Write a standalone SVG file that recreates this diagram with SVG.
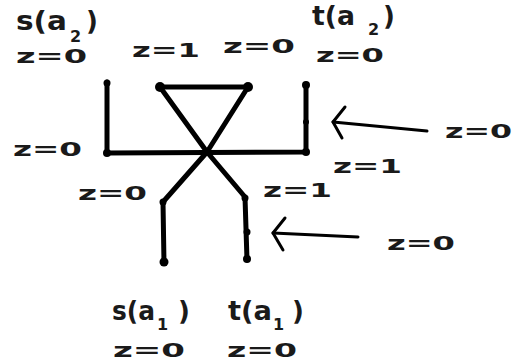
<svg xmlns="http://www.w3.org/2000/svg" width="513" height="364" viewBox="0 0 513 364">
<style>
text{font-family:"DejaVu Sans","Liberation Sans",sans-serif;font-weight:bold;fill:#1a1a1a}
.z{font-size:20px}
.big{font-size:26px}
.sub{font-size:16px}
.wire{fill:none;stroke:#000;stroke-width:5;stroke-linecap:round;stroke-linejoin:round}
.arr{fill:none;stroke:#000;stroke-width:3;stroke-linecap:round;stroke-linejoin:round}
.dot{fill:#000}
</style>
<rect width="513" height="364" fill="#fff"/>
<g id="connectors">
<polyline class="wire" points="107,82 107,153 306,152 306,84"/>
<line class="wire" x1="160" y1="87" x2="248" y2="87"/>
<polyline class="wire" points="160,87 207,152 245,197 247,260"/>
<polyline class="wire" points="248,87 207,152 163,202 164,263"/>
<circle class="dot" cx="107" cy="83" r="3.5"/>
<circle class="dot" cx="107" cy="153" r="4"/>
<circle class="dot" cx="160" cy="87" r="5"/>
<circle class="dot" cx="248" cy="87" r="5"/>
<circle class="dot" cx="306" cy="85" r="4"/>
<circle class="dot" cx="306" cy="152" r="4"/>
<circle class="dot" cx="306" cy="122" r="3"/>
<circle class="dot" cx="163" cy="202" r="3.5"/>
<circle class="dot" cx="164" cy="262" r="4.5"/>
<circle class="dot" cx="245" cy="198" r="3.5"/>
<circle class="dot" cx="247" cy="232" r="3.5"/>
<circle class="dot" cx="247" cy="259" r="4"/>
<polyline class="arr" points="345,107 333,122 342,138"/>
<line class="arr" x1="333" y1="122" x2="427" y2="131"/>
<polyline class="arr" points="285,218 273,233 283,250"/>
<line class="arr" x1="273" y1="233" x2="358" y2="237"/>
</g>
<g id="s_a2">
<text class="big" x="16" y="30" textLength="51" lengthAdjust="spacingAndGlyphs">s(a</text>
<text class="sub" x="70" y="42">2</text>
<text class="big" x="86" y="30">)</text>
<text class="z" x="16" y="63" textLength="71" lengthAdjust="spacingAndGlyphs">z=0</text>
</g>
<g id="t_a2">
<text class="big" x="312" y="25" textLength="43" lengthAdjust="spacingAndGlyphs">t(a</text>
<text class="sub" x="368" y="35">2</text>
<text class="big" x="383" y="25">)</text>
<text class="z" x="316" y="62" textLength="68" lengthAdjust="spacingAndGlyphs">z=0</text>
</g>
<g id="top_labels">
<text class="z" x="132" y="57" textLength="68" lengthAdjust="spacingAndGlyphs">z=1</text>
<text class="z" x="223" y="53" textLength="72" lengthAdjust="spacingAndGlyphs">z=0</text>
</g>
<g id="mid_labels">
<text class="z" x="13" y="156" textLength="69" lengthAdjust="spacingAndGlyphs">z=0</text>
<text class="z" x="445" y="138" textLength="67" lengthAdjust="spacingAndGlyphs">z=0</text>
<text class="z" x="333" y="173" textLength="69" lengthAdjust="spacingAndGlyphs">z=1</text>
</g>
<g id="low_labels">
<text class="z" x="78" y="200" textLength="69" lengthAdjust="spacingAndGlyphs">z=0</text>
<text class="z" x="263" y="197" textLength="69" lengthAdjust="spacingAndGlyphs">z=1</text>
<text class="z" x="387" y="250" textLength="68" lengthAdjust="spacingAndGlyphs">z=0</text>
</g>
<g id="s_a1">
<text class="big" x="112" y="320" textLength="43" lengthAdjust="spacingAndGlyphs">s(a</text>
<text class="sub" x="157" y="330">1</text>
<text class="big" x="178" y="320">)</text>
<text class="z" x="113" y="357" textLength="72" lengthAdjust="spacingAndGlyphs">z=0</text>
</g>
<g id="t_a1">
<text class="big" x="228" y="320" textLength="44" lengthAdjust="spacingAndGlyphs">t(a</text>
<text class="sub" x="273" y="330">1</text>
<text class="big" x="292" y="320">)</text>
<text class="z" x="227" y="357" textLength="70" lengthAdjust="spacingAndGlyphs">z=0</text>
</g>
</svg>
